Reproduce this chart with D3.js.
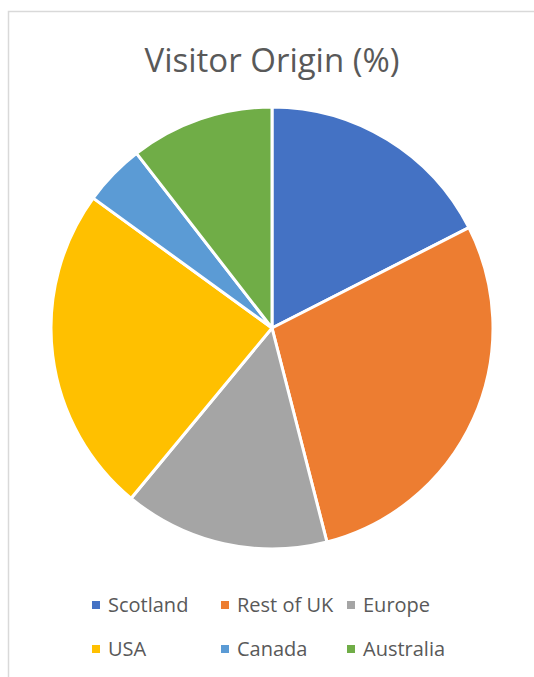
<!DOCTYPE html>
<html>
<head>
<meta charset="utf-8">
<script src="https://cdn.jsdelivr.net/npm/d3@7"></script>
<style>
  body { margin: 0; background: #fff; }
  text { font-family: "Open Sans", "Noto Sans", sans-serif; }
</style>
</head>
<body>
<div id="chart"></div>
<script>
// Datos del gráfico
const categories = ["Scotland", "Rest of UK", "Europe", "USA", "Canada", "Australia"];
const values = [17.5, 28.5, 15, 24, 4.5, 10.5];
const colors = ["#4472c4", "#ed7d31", "#a5a5a5", "#ffc000", "#5b9bd5", "#70ad47"];
const title = "Visitor Origin (%)";

const width = 534;
const height = 677;

const svg = d3.select("#chart")
    .append("svg")
    .attr("width", width)
    .attr("height", height);

// Borde del área del gráfico (solo arriba e izquierda visibles)
svg.append("path")
    .attr("d", `M8.5,${height} L8.5,11.5 L${width},11.5`)
    .attr("fill", "none")
    .attr("stroke", "#d9d9d9")
    .attr("stroke-width", 1.5);

// Título
svg.append("text")
    .attr("x", 272)
    .attr("y", 72)
    .attr("text-anchor", "middle")
    .attr("fill", "#595959")
    .attr("font-size", 33)
    .text(title);

// Pastel
const color = d3.scaleOrdinal().domain(categories).range(colors);
const pie = d3.pie().sort(null).value(d => d.value);
const arc = d3.arc().innerRadius(0).outerRadius(221);

const data = categories.map((c, i) => ({ name: c, value: values[i] }));

svg.append("g")
    .attr("transform", "translate(272,328)")
    .selectAll("path")
    .data(pie(data))
    .enter()
    .append("path")
    .attr("d", arc)
    .attr("fill", d => color(d.data.name))
    .attr("stroke", "#fff")
    .attr("stroke-width", 3)
    .attr("stroke-linejoin", "round");

// Leyenda
const colX = [92, 221, 347];
const rowY = [605, 649];

const legend = svg.append("g")
    .selectAll("g")
    .data(data)
    .enter()
    .append("g")
    .attr("transform", (d, i) => `translate(${colX[i % 3]},${rowY[Math.floor(i / 3)]})`);

legend.append("rect")
    .attr("x", 0)
    .attr("y", -4)
    .attr("width", 8)
    .attr("height", 8)
    .attr("fill", d => color(d.name));

legend.append("text")
    .attr("x", 16)
    .attr("y", 0)
    .attr("dy", "0.35em")
    .attr("fill", "#595959")
    .attr("font-size", 20)
    .text(d => d.name);
</script>
</body>
</html>
